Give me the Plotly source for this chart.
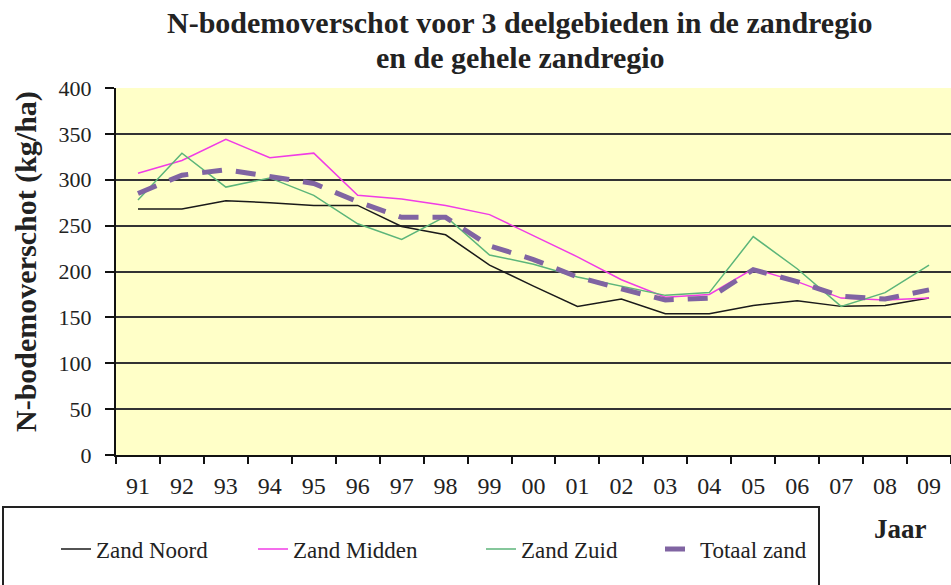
import plotly.graph_objects as go

years = ["91", "92", "93", "94", "95", "96", "97", "98", "99", "00",
         "01", "02", "03", "04", "05", "06", "07", "08", "09"]
zand_noord = [268, 268, 277, 275, 272, 272, 249, 240, 207, 184,
              162, 170, 154, 154, 163, 168, 162, 163, 171]
zand_midden = [307, 321, 344, 324, 329, 283, 279, 272, 262, 239,
               216, 191, 172, 175, 203, 189, 171, 169, 171]
zand_zuid = [278, 329, 292, 302, 283, 252, 235, 260, 218, 208,
             194, 184, 174, 177, 238, 203, 162, 177, 207]
totaal_zand = [285, 305, 311, 303, 296, 276, 259, 259, 228, 213,
               194, 181, 169, 171, 202, 189, 173, 170, 180]

SERIF = "Liberation Serif, Times New Roman, serif"

W, H = 951, 585
# plot area in page pixels
L, R, T, B = 116, 951, 88, 455


def px(x):
    return (x - L) / (R - L)


def py(y):
    return (B - y) / (B - T)


fig = go.Figure()
fig.add_trace(go.Scatter(x=years, y=zand_noord, mode="lines", name="Zand Noord",
                         line=dict(color="#1a1a1a", width=1.5), legend="legend"))
fig.add_trace(go.Scatter(x=years, y=zand_midden, mode="lines", name="Zand Midden",
                         line=dict(color="#f03ce6", width=1.5), legend="legend2"))
fig.add_trace(go.Scatter(x=years, y=zand_zuid, mode="lines", name="Zand Zuid",
                         line=dict(color="#5cb57a", width=1.5), legend="legend3"))
fig.add_trace(go.Scatter(x=years, y=totaal_zand, mode="lines", name="Totaal zand",
                         line=dict(color="#8064a2", width=5, dash="20px,14px"),
                         legend="legend4"))

leg_common = dict(orientation="h", yanchor="middle", xanchor="left",
                  font=dict(family=SERIF, size=23, color="#222"),
                  bgcolor="rgba(0,0,0,0)", borderwidth=0)
ly = py(549)
fig.update_layout(
    legend=dict(x=px(56), y=ly, **leg_common),
    legend2=dict(x=px(253), y=ly, **leg_common),
    legend3=dict(x=px(481), y=ly, **leg_common),
    legend4=dict(x=px(660), y=ly, **leg_common),
)

title_font = dict(family=SERIF, size=30, color="#222")

fig.update_layout(
    width=W, height=H,
    margin=dict(l=L, r=W - R, t=T, b=H - B, pad=0, autoexpand=False),
    paper_bgcolor="white",
    plot_bgcolor="#ffffc8",
    font=dict(family=SERIF, color="#222"),
    xaxis=dict(type="category", range=[-0.5, 18.5], showgrid=False,
               showline=True, linecolor="#111", linewidth=2,
               ticks="outside", tickson="boundaries", ticklen=7, tickwidth=2,
               tickcolor="#111", ticklabelstandoff=8,
               tickfont=dict(family=SERIF, size=24, color="#222"),
               fixedrange=True),
    yaxis=dict(range=[0, 400], dtick=50, showgrid=True, gridcolor="#333",
               gridwidth=2, zeroline=False,
               showline=True, linecolor="#111", linewidth=2,
               ticks="outside", ticklen=9, tickwidth=2, tickcolor="#111",
               ticklabelstandoff=9,
               tickfont=dict(family=SERIF, size=22, color="#222"),
               fixedrange=True),
    shapes=[dict(type="rect", xref="paper", yref="paper",
                 x0=px(3), x1=px(819), y0=py(507), y1=py(650),
                 line=dict(color="#222", width=2), fillcolor="rgba(0,0,0,0)")],
    annotations=[
        dict(text="<b>N-bodemoverschot voor 3 deelgebieden in de zandregio</b>",
             xref="paper", yref="paper", x=px(520), y=py(23),
             xanchor="center", yanchor="middle", showarrow=False, font=title_font),
        dict(text="<b>en de gehele zandregio</b>",
             xref="paper", yref="paper", x=px(520), y=py(58),
             xanchor="center", yanchor="middle", showarrow=False, font=title_font),
        dict(text="<b>N-bodemoverschot (kg/ha)</b>", textangle=-90,
             xref="paper", yref="paper", x=px(26), y=py(262),
             xanchor="center", yanchor="middle", showarrow=False,
             font=dict(family=SERIF, size=30, color="#222")),
        dict(text="<b>Jaar</b>", xref="paper", yref="paper",
             x=px(900), y=py(529), xanchor="center", yanchor="middle",
             showarrow=False, font=dict(family=SERIF, size=27, color="#222")),
    ],
    showlegend=True,
)

fig.write_html("out.html",
               config={"displayModeBar": False},
               post_script="document.body.style.margin='0';"
                           "document.body.style.overflow='hidden';")
